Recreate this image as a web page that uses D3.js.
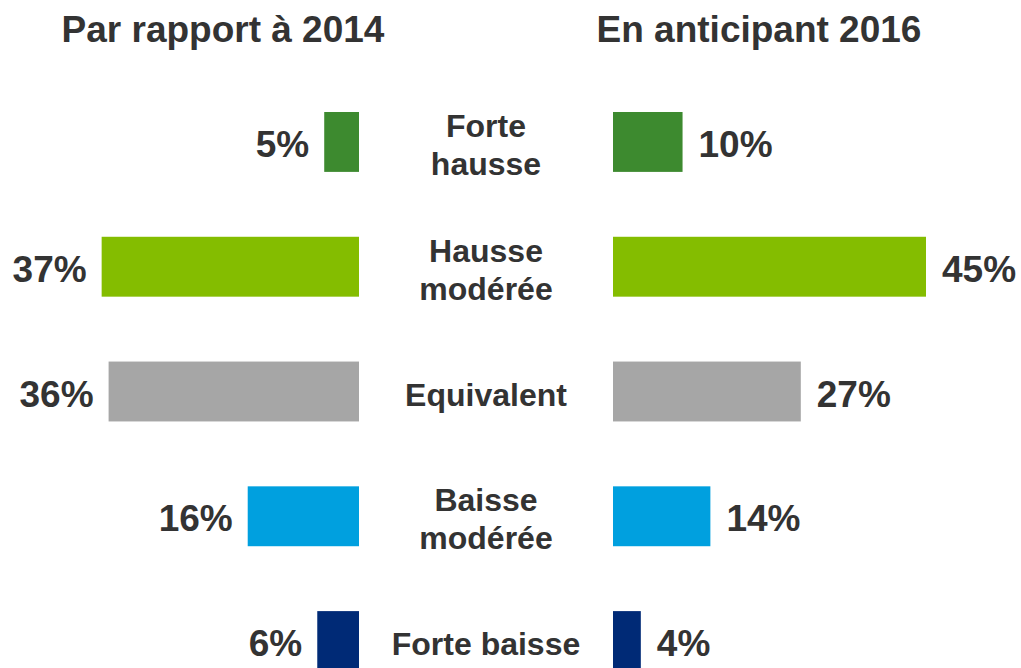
<!DOCTYPE html>
<html>
<head>
<meta charset="utf-8">
<script src="https://cdn.jsdelivr.net/npm/d3@7"></script>
<style>
  body { margin: 0; background: #fff; }
  text { font-family: "Liberation Sans", Arial, sans-serif; font-weight: bold; fill: #333; }
</style>
</head>
<body>
<div id="chart"></div>
<script>
// data
var categories = ["Forte hausse", "Hausse modérée", "Equivalent", "Baisse modérée", "Forte baisse"];
var labelLines = [["Forte", "hausse"], ["Hausse", "modérée"], ["Equivalent"], ["Baisse", "modérée"], ["Forte baisse"]];
var values2014 = [5, 37, 36, 16, 6];
var values2016 = [10, 45, 27, 14, 4];
var colors = ["#3d8a2f", "#84bd00", "#a6a6a6", "#00a0df", "#002a76"];
var titles = ["Par rapport à 2014", "En anticipant 2016"];

var width = 1021, height = 668;

var svg = d3.select("#chart").append("svg")
    .attr("width", width)
    .attr("height", height);

// scales
var y = d3.scaleBand()
    .domain(categories)
    .range([112, 671])
    .paddingInner(0.52)
    .paddingOuter(0);

var x = d3.scaleLinear()
    .domain([0, 45])
    .range([0, 313]);

var leftEdge = 359, rightEdge = 613;

// titles
svg.append("text")
    .attr("x", 223)
    .attr("y", 42)
    .attr("text-anchor", "middle")
    .style("font-size", "37px")
    .text(titles[0]);
svg.append("text")
    .attr("x", 759)
    .attr("y", 42)
    .attr("text-anchor", "middle")
    .style("font-size", "37px")
    .text(titles[1]);

// left bars
svg.selectAll(".bar-left")
    .data(values2014)
    .enter().append("rect")
    .attr("class", "bar-left")
    .attr("x", function(d) { return leftEdge - x(d); })
    .attr("y", function(d, i) { return y(categories[i]); })
    .attr("width", function(d) { return x(d); })
    .attr("height", y.bandwidth())
    .attr("fill", function(d, i) { return colors[i]; });

svg.selectAll(".val-left")
    .data(values2014)
    .enter().append("text")
    .attr("class", "val-left")
    .attr("x", function(d) { return leftEdge - x(d) - 15; })
    .attr("y", function(d, i) { return y(categories[i]) + y.bandwidth() / 2 + 15; })
    .attr("text-anchor", "end")
    .style("font-size", "37px")
    .text(function(d) { return d + "%"; });

// right bars
svg.selectAll(".bar-right")
    .data(values2016)
    .enter().append("rect")
    .attr("class", "bar-right")
    .attr("x", rightEdge)
    .attr("y", function(d, i) { return y(categories[i]); })
    .attr("width", function(d) { return x(d); })
    .attr("height", y.bandwidth())
    .attr("fill", function(d, i) { return colors[i]; });

svg.selectAll(".val-right")
    .data(values2016)
    .enter().append("text")
    .attr("class", "val-right")
    .attr("x", function(d) { return rightEdge + x(d) + 16; })
    .attr("y", function(d, i) { return y(categories[i]) + y.bandwidth() / 2 + 15; })
    .style("font-size", "37px")
    .text(function(d) { return d + "%"; });

// category labels in the middle
var mid = (leftEdge + rightEdge) / 2;
var cat = svg.selectAll(".cat")
    .data(categories)
    .enter().append("text")
    .attr("class", "cat")
    .attr("text-anchor", "middle")
    .style("font-size", "32px");

cat.each(function(d, i) {
    var lines = labelLines[i];
    var cy = y(d) + y.bandwidth() / 2;
    var start = lines.length > 1 ? cy - 5 : cy + 14;
    d3.select(this).selectAll("tspan")
        .data(lines)
        .enter().append("tspan")
        .attr("x", mid)
        .attr("y", function(l, j) { return start + j * 38; })
        .text(function(l) { return l; });
});
</script>
</body>
</html>
